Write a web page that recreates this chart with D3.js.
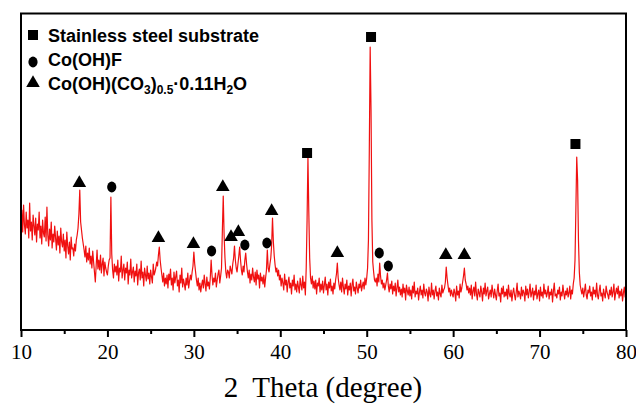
<!DOCTYPE html>
<html><head><meta charset="utf-8">
<script src="https://cdn.jsdelivr.net/npm/d3@7"></script>
<style>
html,body{margin:0;padding:0;background:#fff;}
svg{display:block;}
</style></head>
<body>
<svg id="chart" width="636" height="407"></svg>
<script>
// ---- data ----
const startAngle = 10;      // 2θ of the first sample
const angleStep = 0.1;      // 2θ step between samples
// intensity (a.u.), one row per degree: 10.0 … 79.9, then 80.0
const intensity = [
112,120,98,125,105,96,118,102,110,92,
127,99,108,90,115,104,95,112,88,106,
100,118,92,104,86,110,97,93,113,89,
123,95,84,101,90,108,82,96,88,104,
92,80,99,85,94,77,102,88,83,96,
79,90,72,98,84,76,88,70,93,81,
82,74,86,79,90,95,102,116,140,108,
100,92,86,80,73,84,68,77,70,82,
66,74,62,79,68,58,48,65,80,61,
70,60,75,57,66,72,54,68,62,58,
55,64,70,72,133,76,60,52,66,58,
64,55,70,49,62,58,74,52,60,66,
50,62,57,68,46,60,55,71,52,58,
63,48,59,54,66,45,57,61,50,69,
52,58,44,62,55,49,64,51,57,46,
60,53,47,66,55,58,62,68,64,75,
83,70,62,55,48,57,44,52,46,55,
42,56,50,61,45,52,40,58,47,53,
59,44,50,38,55,47,62,43,51,46,
40,52,45,57,42,49,55,50,58,64,
78,66,58,50,44,52,40,47,38,45,
50,42,55,46,39,53,44,48,41,52,
70,55,45,52,48,57,43,50,56,60,
47,54,62,100,134,95,72,58,52,60,
58,52,64,60,56,66,72,84,70,62,
58,66,74,83,70,60,55,64,58,70,
77,66,58,52,60,47,56,50,62,53,
48,58,45,60,51,55,42,57,49,53,
46,55,43,52,60,80,62,58,66,72,
85,112,88,74,65,58,62,54,60,50,
55,44,52,47,40,56,45,50,38,48,
53,42,47,36,50,44,55,40,46,38,
49,43,37,52,45,40,54,42,48,35,
62,110,173,118,72,52,46,54,42,49,
41,50,36,47,44,52,38,46,40,49,
37,45,53,40,46,35,48,42,51,39,
44,36,47,41,50,56,67,52,45,40,
48,38,52,43,36,46,41,50,35,44,
40,47,34,45,51,39,43,36,48,42,
37,46,42,50,39,44,48,41,52,45,
52,62,90,180,283,220,110,68,58,50,
48,52,44,56,48,67,54,46,50,42,
47,40,45,50,57,44,38,46,41,49,
36,44,39,47,34,42,50,38,43,35,
41,33,46,37,42,30,45,39,35,43,
34,40,31,44,37,48,33,39,36,42,
30,38,44,35,40,32,46,37,34,41,
38,29,43,36,33,47,35,40,31,39,
44,34,38,30,42,36,33,45,37,40,
42,48,63,52,45,38,42,34,40,36,
33,41,37,29,44,35,39,32,46,38,
42,48,54,62,50,46,40,44,37,42,
35,45,31,39,43,34,48,36,30,41,
37,33,44,38,29,42,36,47,34,39,
43,31,36,40,33,45,38,32,41,35,
30,39,46,34,37,28,42,36,44,33,
38,34,41,31,45,36,33,40,29,37,
42,35,30,38,47,33,39,36,31,43,
34,40,37,29,44,35,41,32,38,46,
33,37,42,30,39,35,45,31,36,40,
29,43,34,38,32,46,36,40,33,37,
44,31,38,35,41,28,39,47,34,36,
32,40,36,43,30,38,34,45,37,31,
39,35,42,33,37,44,31,40,36,46,
52,70,120,173,150,90,58,45,40,36,
42,33,39,46,35,31,40,37,44,34,
38,30,43,36,40,33,47,35,31,39,
45,34,37,29,41,36,32,44,38,35,
31,40,35,43,33,38,46,30,37,42,
36,44,32,39,34,41,29,37,43,33,
38
];

// phase markers: [2θ, intensity position of the marker]
const substrateMarks = [[43.1,177],[50.5,293],[74.15,186]];
const cofMarks = [[20.5,143],[32.05,79],[35.9,85],[38.45,87],[51.45,77],[52.5,64]];
const carbonateMarks = [[16.75,148],[25.9,93],[29.95,87],[33.35,144],[34.3,94],[35.15,99],[39.0,120],[46.6,78],[59.15,76],[61.3,76]];

const majorTicks = [10,20,30,40,50,60,70,80];
const minorTicks = [15,25,35,45,55,65,75];
const xTitle = "2  Theta (degree)";

// ---- drawing ----
const svg = d3.select("#chart");
const x = d3.scaleLinear().domain([10,80]).range([21,626]);
const y = d3.scaleLinear().domain([0,316]).range([330,14]);

const pts = intensity.map((v,i)=>[startAngle + i*angleStep, v]);

svg.append("path")
  .datum(pts)
  .attr("fill","none")
  .attr("stroke","#f01010")
  .attr("stroke-width",1.2)
  .attr("stroke-linejoin","round")
  .attr("d", d3.line().x(d=>x(d[0])).y(d=>y(d[1])));

// frame
svg.append("rect")
  .attr("x",21).attr("y",13.5)
  .attr("width",605).attr("height",316.5)
  .attr("fill","none").attr("stroke","#000").attr("stroke-width",2);

// axes
const gx = svg.append("g").attr("transform","translate(0,330)");
gx.call(d3.axisBottom(x).tickValues(majorTicks).tickSize(7).tickPadding(7).tickFormat(d3.format("d")));
gx.select(".domain").remove();
gx.selectAll(".tick line").attr("stroke","#000").attr("stroke-width",2);
gx.selectAll(".tick text")
  .attr("font-family","'Liberation Serif','Times New Roman',serif")
  .attr("font-size",21).attr("fill","#000");

const gm = svg.append("g").attr("transform","translate(0,330)");
gm.call(d3.axisBottom(x).tickValues(minorTicks).tickSize(4).tickFormat(""));
gm.select(".domain").remove();
gm.selectAll(".tick line").attr("stroke","#000").attr("stroke-width",2);

svg.append("text")
  .attr("x",323).attr("y",397)
  .attr("text-anchor","middle")
  .attr("font-family","'Liberation Serif','Times New Roman',serif")
  .attr("font-size",29)
  .style("white-space","pre")
  .text(xTitle);

// markers
const sq = d3.symbol().type(d3.symbolSquare).size(100);
const tri = d3.symbol().type(d3.symbolTriangle).size(80);

svg.selectAll(".sq").data(substrateMarks).join("path")
  .attr("d",sq())
  .attr("transform",d=>`translate(${x(d[0])},${y(d[1])})`)
  .attr("fill","#000");
svg.selectAll(".ci").data(cofMarks).join("ellipse")
  .attr("cx",d=>x(d[0])).attr("cy",d=>y(d[1]))
  .attr("rx",4.6).attr("ry",5.4).attr("fill","#000");
svg.selectAll(".tr").data(carbonateMarks).join("path")
  .attr("d",tri())
  .attr("transform",d=>`translate(${x(d[0])},${y(d[1])+1})`)
  .attr("fill","#000");

// legend
const lg = svg.append("g")
  .attr("font-family","'Liberation Sans',Arial,sans-serif")
  .attr("font-weight","bold").attr("font-size",18).attr("fill","#000");
lg.append("path").attr("d",sq()).attr("transform","translate(33,35)");
lg.append("text").attr("x",48).attr("y",42).text("Stainless steel substrate");
lg.append("ellipse").attr("cx",33).attr("cy",62).attr("rx",4.6).attr("ry",5.4);
lg.append("text").attr("x",48).attr("y",66).text("Co(OH)F");
lg.append("path").attr("d",tri()).attr("transform","translate(33,83)");
const t3 = lg.append("text").attr("x",48).attr("y",90);
t3.append("tspan").text("Co(OH)(CO");
t3.append("tspan").attr("font-size",12).attr("dy",4).text("3");
t3.append("tspan").attr("dy",-4).text(")");
t3.append("tspan").attr("font-size",12).attr("dy",4).text("0.5");
t3.append("tspan").attr("dy",-4).text("·0.11H");
t3.append("tspan").attr("font-size",12).attr("dy",4).text("2");
t3.append("tspan").attr("dy",-4).text("O");
</script>
</body></html>
